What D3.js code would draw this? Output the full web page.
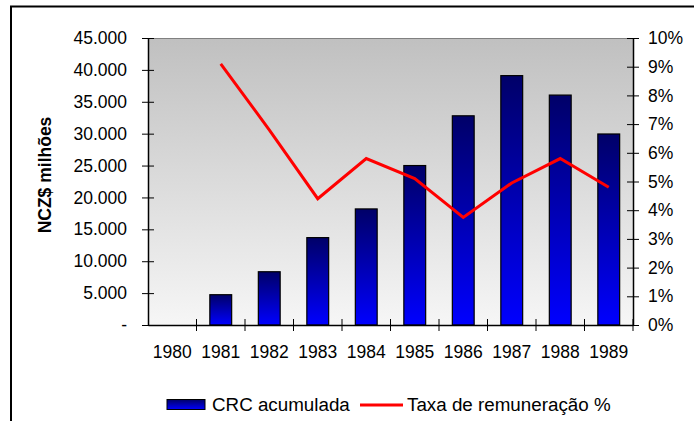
<!DOCTYPE html>
<html>
<head>
<meta charset="utf-8">
<script src="https://cdn.jsdelivr.net/npm/d3@7"></script>
<style>
  body { margin: 0; background: #fff; }
  text { font-family: "Liberation Sans", Arial, sans-serif; fill: #000; }
</style>
</head>
<body>
<div id="chart"></div>
<script>
// data
var years = ["1980", "1981", "1982", "1983", "1984", "1985", "1986", "1987", "1988", "1989"];
var crc = [null, 4750, 8350, 13700, 18200, 25000, 32800, 39100, 36050, 29950];
var taxa = [null, 9.1, 6.8, 4.4, 5.8, 5.1, 3.75, 4.95, 5.8, 4.8];
var leftTicks = [0, 5000, 10000, 15000, 20000, 25000, 30000, 35000, 40000, 45000];
var rightTicks = [0, 1, 2, 3, 4, 5, 6, 7, 8, 9, 10];

var svgWidth = 694;
var svgHeight = 421;
var margin = { top: 38, right: 61, bottom: 96, left: 148 };
var width = svgWidth - margin.left - margin.right;
var height = svgHeight - margin.top - margin.bottom;

var svg = d3.select("#chart")
    .append("svg")
    .attr("width", svgWidth)
    .attr("height", svgHeight);

var defs = svg.append("defs");
var bg = defs.append("linearGradient").attr("id", "bg")
    .attr("x1", 0).attr("y1", 0).attr("x2", 0).attr("y2", 1);
bg.append("stop").attr("offset", "0%").attr("stop-color", "#c0c0c0");
bg.append("stop").attr("offset", "100%").attr("stop-color", "#f6f6f6");

var barGrad = defs.append("linearGradient").attr("id", "barGrad")
    .attr("x1", 0).attr("y1", 0).attr("x2", 0).attr("y2", 1);
barGrad.append("stop").attr("offset", "0%").attr("stop-color", "#000068");
barGrad.append("stop").attr("offset", "100%").attr("stop-color", "#0000ff");

// outer frame (cut off on right and bottom)
svg.append("rect")
    .attr("x", 11).attr("y", 6.5)
    .attr("width", 700).attr("height", 430)
    .attr("fill", "none")
    .attr("stroke", "#000")
    .attr("stroke-width", 2);

var chartGroup = svg.append("g")
    .attr("transform", `translate(${margin.left}, ${margin.top})`);

// scales
var xScale = d3.scaleBand()
    .domain(years)
    .range([0, width])
    .paddingInner(0.55)
    .paddingOuter(0.275);

var xBands = d3.scaleBand()
    .domain(years)
    .range([0, width]);

var yLeft = d3.scaleLinear()
    .domain([0, 45000])
    .range([height, 0]);

var yRight = d3.scaleLinear()
    .domain([0, 10])
    .range([height, 0]);

// plot background
chartGroup.append("rect")
    .attr("width", width)
    .attr("height", height)
    .attr("fill", "url(#bg)");
chartGroup.append("line")
    .attr("x1", 0).attr("x2", width)
    .attr("y1", 0.5).attr("y2", 0.5)
    .attr("stroke", "#808080");

// bars
chartGroup.selectAll(".bar")
    .data(years.filter((d, i) => crc[i] != null))
    .enter()
    .append("rect")
    .attr("class", "bar")
    .attr("x", d => xScale(d))
    .attr("width", xScale.bandwidth())
    .attr("y", d => yLeft(crc[years.indexOf(d)]))
    .attr("height", d => height - yLeft(crc[years.indexOf(d)]))
    .attr("fill", "url(#barGrad)")
    .attr("stroke", "#000")
    .attr("stroke-width", 1.2);

// line
var line = d3.line()
    .defined(d => d.v != null)
    .x(d => xBands(d.year) + xBands.bandwidth() / 2)
    .y(d => yRight(d.v));

chartGroup.append("path")
    .datum(years.map((y, i) => ({ year: y, v: taxa[i] })))
    .attr("d", line)
    .attr("fill", "none")
    .attr("stroke", "#ff0000")
    .attr("stroke-width", 3)
    .attr("stroke-linejoin", "miter");

// axes
var leftAxis = d3.axisLeft(yLeft)
    .tickValues(leftTicks)
    .tickSizeInner(6)
    .tickSizeOuter(0)
    .tickPadding(16)
    .tickFormat(d => d === 0 ? "-" : d3.format(",")(d).replace(/,/g, "."));

var rightAxis = d3.axisRight(yRight)
    .tickValues(rightTicks)
    .tickSizeInner(6)
    .tickSizeOuter(0)
    .tickPadding(10)
    .tickFormat(d => d + "%");

var bottomAxis = d3.axisBottom(xBands)
    .tickValues([])
    .tickSizeOuter(0);

var gl = chartGroup.append("g").call(leftAxis);
var gr = chartGroup.append("g").attr("transform", `translate(${width}, 0)`).call(rightAxis);
var gb = chartGroup.append("g").attr("transform", `translate(0, ${height})`).call(bottomAxis);

[gl, gr, gb].forEach(g => {
    g.select(".domain").attr("stroke", "#000").attr("stroke-width", 1.5);
    g.selectAll("text").attr("font-size", "17.5px").attr("font-family", "Liberation Sans, Arial, sans-serif");
});
// ticks cross the axis lines
gl.selectAll(".tick line").attr("x1", 6).attr("x2", -6).attr("stroke", "#000");
gl.selectAll(".tick text").attr("x", -21);
gr.selectAll(".tick line").attr("x1", -6).attr("x2", 6).attr("stroke", "#000");
gr.selectAll(".tick text").attr("x", 15);

// category boundary ticks on the x axis
chartGroup.append("g").selectAll("line")
    .data(years.slice(1).concat(["end"]))
    .enter()
    .append("line")
    .attr("x1", d => d === "end" ? width : xBands(d))
    .attr("x2", d => d === "end" ? width : xBands(d))
    .attr("y1", height - 6)
    .attr("y2", height + 6)
    .attr("stroke", "#000");

// year labels
chartGroup.append("g").selectAll("text")
    .data(years)
    .enter()
    .append("text")
    .attr("x", d => xBands(d) + xBands.bandwidth() / 2)
    .attr("y", height + 33)
    .attr("text-anchor", "middle")
    .attr("font-size", "17.5px")
    .text(d => d);

// y axis title
svg.append("text")
    .attr("transform", "translate(51, 175) rotate(-90)")
    .attr("text-anchor", "middle")
    .attr("font-size", "17.5px")
    .attr("font-weight", "bold")
    .text("NCZ$ milhões");

// legend
var legend = svg.append("g");
legend.append("rect")
    .attr("x", 167).attr("y", 399.5)
    .attr("width", 38).attr("height", 10)
    .attr("fill", "url(#barGrad)")
    .attr("stroke", "#000")
    .attr("stroke-width", 1);
legend.append("text")
    .attr("x", 212).attr("y", 411)
    .attr("font-size", "18.8px")
    .text("CRC acumulada");
legend.append("line")
    .attr("x1", 360).attr("x2", 403)
    .attr("y1", 405).attr("y2", 405)
    .attr("stroke", "#ff0000")
    .attr("stroke-width", 3);
legend.append("text")
    .attr("x", 407).attr("y", 411)
    .attr("font-size", "18.8px")
    .text("Taxa de remuneração %");
</script>
</body>
</html>
